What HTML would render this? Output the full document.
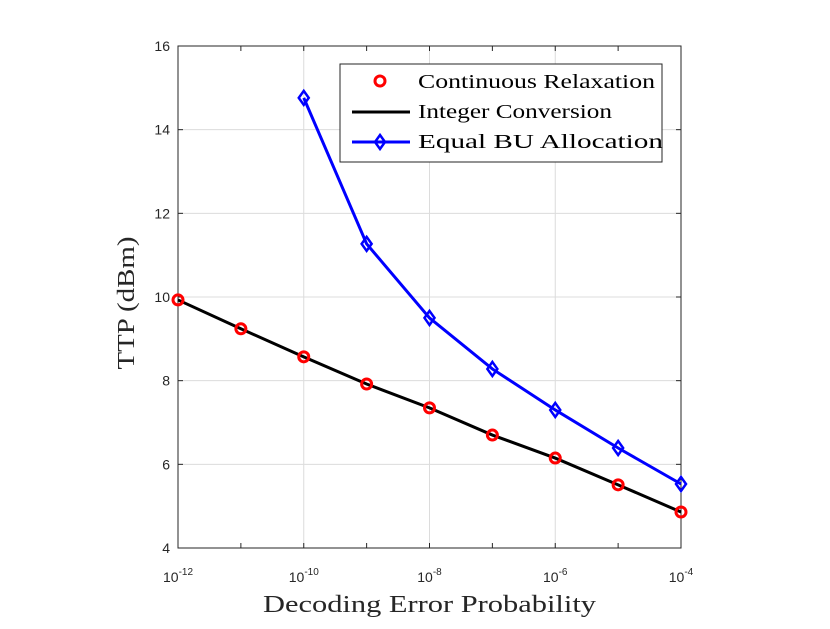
<!DOCTYPE html>
<html><head><meta charset="utf-8"><style>
body{margin:0;background:#fff;}
svg text{font-family:"Liberation Sans",sans-serif;}
.serif{font-family:"Liberation Serif",serif;}
</style></head><body>
<svg id="chart" width="830" height="624" xmlns="http://www.w3.org/2000/svg"></svg>
<script>
const xExps=[-12,-11,-10,-9,-8,-7,-6,-5,-4];
const relaxVals=[9.93,9.24,8.57,7.92,7.35,6.70,6.15,5.51,4.86];
const integerVals=[9.93,9.24,8.57,7.92,7.35,6.70,6.15,5.51,4.86];
const equalExps=[-10,-9,-8,-7,-6,-5,-4];
const equalVals=[14.76,11.27,9.50,8.28,7.30,6.39,5.53];
const yTicks=[4,6,8,10,12,14,16];
const xTickExps=[-12,-10,-8,-6,-4];

const L=178,R=681,T=46,B=548;
const sx=e=>L+(e+12)/8*(R-L);
const sy=v=>B-(v-4)/12*(B-T);
const svg=document.getElementById('chart');
const NS='http://www.w3.org/2000/svg';
function mk(tag,attrs,parent){const e=document.createElementNS(NS,tag);for(const k in attrs)e.setAttribute(k,attrs[k]);(parent||svg).appendChild(e);return e;}

mk('rect',{x:L,y:T,width:R-L,height:B-T,fill:'#fff'});
const grid=mk('g',{});


xTickExps.forEach(e=>{mk('line',{x1:sx(e),x2:sx(e),y1:T,y2:B,stroke:'#dcdcdc','stroke-width':1},grid);});
yTicks.forEach(v=>{mk('line',{x1:L,x2:R,y1:sy(v),y2:sy(v),stroke:'#dcdcdc','stroke-width':1},grid);});
const frame=mk('rect',{x:L,y:T,width:R-L,height:B-T,fill:'none',stroke:'#262626','stroke-width':1});



yTicks.forEach(v=>{
 mk('line',{x1:L,x2:L+5,y1:sy(v),y2:sy(v),stroke:'#262626'});
 mk('line',{x1:R,x2:R-5,y1:sy(v),y2:sy(v),stroke:'#262626'});
 const t=mk('text',{x:L-8,y:sy(v)+5,'text-anchor':'end','font-size':14,fill:'#262626'});t.textContent=v;
 
 
});
xExps.forEach(e=>{
 mk('line',{x1:sx(e),x2:sx(e),y1:B,y2:B-5,stroke:'#262626'});
 mk('line',{x1:sx(e),x2:sx(e),y1:T,y2:T+5,stroke:'#262626'});
});
xTickExps.forEach(e=>{
 const t=mk('text',{x:sx(e),y:B+34,'text-anchor':'middle','font-size':14,fill:'#262626'});
 
 
 t.innerHTML='10<tspan dy="-7" font-size="10">'+e+'</tspan>';
});

const xt=mk('text',{x:263,y:612,'font-size':24,class:'serif',fill:'#262626',textLength:333,lengthAdjust:'spacingAndGlyphs'});
xt.textContent='Decoding Error Probability';


const yt=mk('text',{x:0,y:0,'text-anchor':'middle','font-size':24,class:'serif',fill:'#262626',textLength:133,lengthAdjust:'spacingAndGlyphs',transform:`translate(134,303) rotate(-90)`});
yt.textContent='TTP (dBm)';



const intLine=mk('polyline',{points:xExps.map((e,i)=>sx(e)+','+sy(integerVals[i])).join(' '),fill:'none',stroke:'#000','stroke-width':3});


xExps.forEach((e,i)=>{
 const c=mk('circle',{cx:sx(e),cy:sy(relaxVals[i]),r:5,fill:'none',stroke:'#f00','stroke-width':3});
 
 
});
const eqLine=mk('polyline',{points:equalExps.map((e,i)=>sx(e)+','+sy(equalVals[i])).join(' '),fill:'none',stroke:'#00f','stroke-width':3});


function diamond(x,y,p){return mk('polygon',{points:`${x},${y-7} ${x+5},${y} ${x},${y+7} ${x-5},${y}`,fill:'none',stroke:'#00f','stroke-width':2.5},p);}
equalExps.forEach((e,i)=>{
 const d=diamond(sx(e),sy(equalVals[i]));
 
 
});

const lg=mk('g',{});


mk('rect',{x:340,y:64,width:322,height:98,fill:'#fff',stroke:'#262626','stroke-width':1},lg);
mk('circle',{cx:380,cy:81,r:5,fill:'none',stroke:'#f00','stroke-width':3},lg);
mk('line',{x1:352,x2:410,y1:112,y2:112,stroke:'#000','stroke-width':3},lg);
mk('line',{x1:352,x2:410,y1:142,y2:142,stroke:'#00f','stroke-width':3},lg);
diamond(380,142,lg);
[['Continuous Relaxation',88,237],['Integer Conversion',118,194],['Equal BU Allocation',148,245]].forEach(([s,y,w])=>{
 const t=mk('text',{x:418,y:y,'font-size':20,class:'serif',fill:'#000',textLength:w,lengthAdjust:'spacingAndGlyphs'},lg);t.textContent=s;
 
 
});
</script>
</body></html>
